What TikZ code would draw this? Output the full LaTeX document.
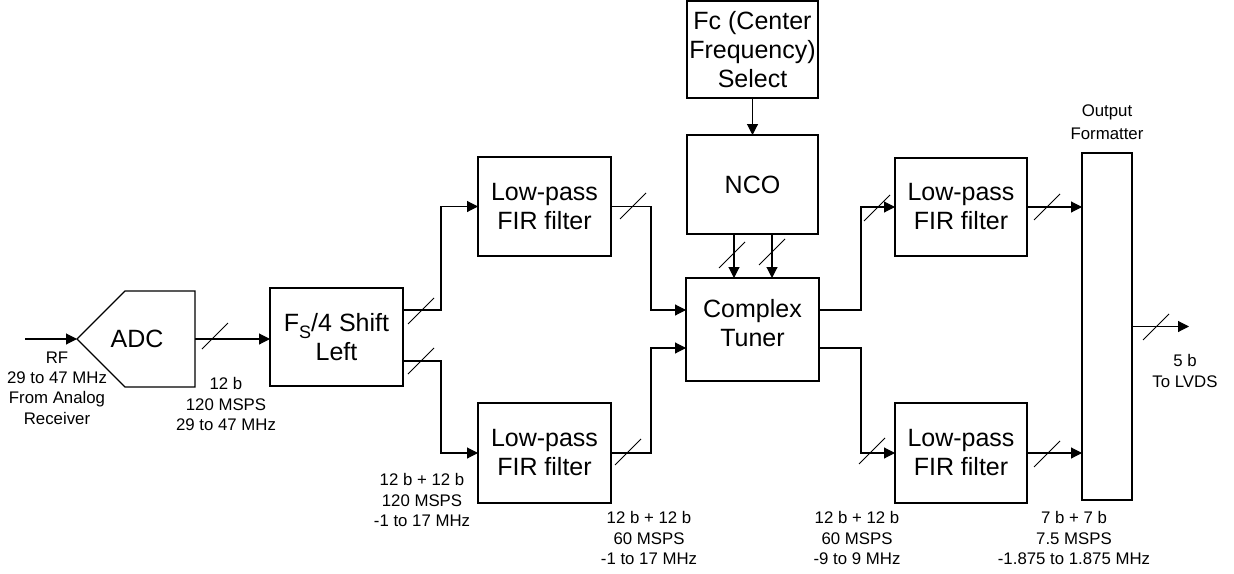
\documentclass[tikz,border=0pt]{standalone}
\usepackage{fontspec}
\setmainfont{Liberation Sans}
\usetikzlibrary{arrows.meta}
\begin{document}
\begin{tikzpicture}[x=1pt,y=-1pt,
  line width=1.1pt,
  arr/.style={-{Triangle[length=11pt,width=11pt]}},
  blk/.style={draw,inner sep=0pt,outer sep=0pt,align=center,font=\fontsize{25}{29}\selectfont},
  lbl/.style={inner sep=0pt,align=center,font=\fontsize{16.8}{20.3}\selectfont},
  sl/.pic={\draw[line width=0.8pt] (-13,13) -- (13,-13);}]
\useasboundingbox (0,0) rectangle (1234,573);
% ADC
\coordinate (adcL) at (77,339);
\coordinate (adcR) at (195,339);
\draw (adcL) -- (125,291) -- (195,291) -- (195,387) -- (125,387) -- cycle;
\node[inner sep=0pt,font=\fontsize{25}{29}\selectfont] (adc) at (137,339) {ADC};
\coordinate (rfin) at (25,339);
% blocks
\node[blk,minimum width=133pt,minimum height=98pt] (fs) at (336.5,337) {F\raisebox{-0.28em}{\fontsize{18}{18}\selectfont S}/4 Shift\\Left};
\node[blk,minimum width=133pt,minimum height=99pt] (lp1) at (544.5,206.5) {Low-pass\\FIR filter};
\node[blk,minimum width=133pt,minimum height=100pt] (lp2) at (544.5,453) {Low-pass\\FIR filter};
\node[blk,minimum width=131pt,minimum height=97pt] (fc) at (752.5,49.5) {Fc (Center\\Frequency)\\Select};
\node[blk,minimum width=131pt,minimum height=99pt] (nco) at (752.5,184.5) {NCO};
\node[draw,inner sep=0pt,outer sep=0pt,minimum width=133pt,minimum height=103pt] (tuner) at (752.5,329.5) {};
\node[inner sep=0pt,align=center,font=\fontsize{25}{29}\selectfont] (tunertxt) at (752.5,323) {Complex\\Tuner};
\node[blk,minimum width=132pt,minimum height=98pt] (lp3) at (961,207) {Low-pass\\FIR filter};
\node[blk,minimum width=132pt,minimum height=100pt] (lp4) at (961,453) {Low-pass\\FIR filter};
\node[draw,inner sep=0pt,outer sep=0pt,minimum width=50pt,minimum height=347pt] (fmt) at (1107,326.5) {};
\coordinate (lvds) at (1189,326.5);
% connectors
\draw[arr] (rfin) -- (adcL);
\draw[arr] (adcR) -- (adcR -| fs.west);
\draw[arr] ([yshift=27pt]fs.east) -- ++(38,0) |- (lp1.west);
\draw[arr] ([yshift=-24pt]fs.east) -- ++(38,0) |- (lp2.west);
\draw[arr] (lp1.east) -- ++(40,0) |- ([yshift=19.5pt]tuner.west);
\draw[arr] (lp2.east) -- ++(40,0) |- ([yshift=-18.5pt]tuner.west);
\draw[arr] (fc.south) -- (nco.north);
\draw[arr] ([xshift=-18.5pt]nco.south) -- ([xshift=-18.5pt]tuner.north);
\draw[arr] ([xshift=19.5pt]nco.south) -- ([xshift=19.5pt]tuner.north);
\draw[arr] ([yshift=19.5pt]tuner.east) -- ++(42,0) |- (lp3.west);
\draw[arr] ([yshift=-18.5pt]tuner.east) -- ++(42,0) |- (lp4.west);
\draw[arr] (lp3.east) -- (lp3.east -| fmt.west);
\draw[arr] (lp4.east) -- (lp4.east -| fmt.west);
\draw[arr] (fmt.east) -- (lvds);
% bus slashes
\pic at (215,336) {sl};
\pic at (421,311) {sl};
\pic at (421,361) {sl};
\pic at (633,206) {sl};
\pic at (628,452) {sl};
\pic at (732,255) {sl};
\pic at (772,252) {sl};
\pic at (877,208) {sl};
\pic at (1047,207) {sl};
\pic at (872,451) {sl};
\pic at (1047,454) {sl};
\pic at (1156,327) {sl};
% labels
\node[lbl] (lrf) at (57,388) {RF\\29 to 47 MHz\\From Analog\\Receiver};
\node[lbl] (ladc) at (226,404) {12 b\\120 MSPS\\29 to 47 MHz};
\node[lbl] (lfs) at (422,500) {12 b + 12 b\\120 MSPS\\-1 to 17 MHz};
\node[lbl] (llp2) at (649,538) {12 b + 12 b\\60 MSPS\\-1 to 17 MHz};
\node[lbl] (llp4i) at (857,538) {12 b + 12 b\\60 MSPS\\-9 to 9 MHz};
\node[lbl] (llp4o) at (1074,538) {7 b + 7 b\\7.5 MSPS\\-1.875 to 1.875 MHz};
\node[lbl] (lout) at (1185,371) {5 b\\To LVDS};
\node[lbl,font=\fontsize{16.8}{23.5}\selectfont] (lfmt) at (1107,122) {Output\\Formatter};
\end{tikzpicture}
\end{document}
